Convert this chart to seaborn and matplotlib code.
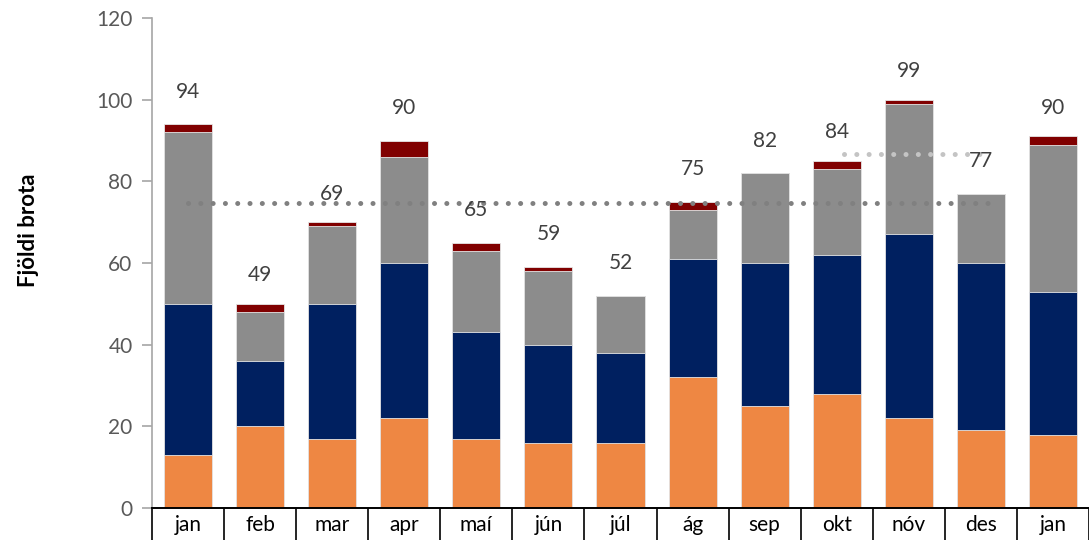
import matplotlib
matplotlib.use("Agg")
import matplotlib.pyplot as plt
import seaborn as sns
import numpy as np
import pandas as pd

months = ["jan", "feb", "mar", "apr", "maí", "jún", "júl", "ág", "sep", "okt", "nóv", "des", "jan"]
orange = [13, 20, 17, 22, 17, 16, 16, 32, 25, 28, 22, 19, 18]
navy   = [37, 16, 33, 38, 26, 24, 22, 29, 35, 34, 45, 41, 35]
gray   = [42, 12, 19, 26, 20, 18, 14, 12, 22, 21, 32, 17, 36]
red    = [2, 2, 1, 4, 2, 1, 0, 2, 0, 2, 1, 0, 2]
totals = [94, 49, 69, 90, 65, 59, 52, 75, 82, 84, 99, 77, 90]
avg_year = 74.6   # average jan-des
avg_last3 = 86.7  # average okt-des

sns.set_theme(style="white")
plt.rcParams['font.family'] = ['Lato', 'DejaVu Sans']

fig = plt.figure(figsize=(10.89, 5.4), dpi=100)
ax = fig.add_axes([152/1089, 1 - 508/540, 1 - 152/1089, 490/540])

idx = list(range(len(months)))
c1 = np.array(orange)
c2 = c1 + np.array(navy)
c3 = c2 + np.array(gray)
c4 = c3 + np.array(red)

layers = [(c4, "#800000"), (c3, "#8C8C8C"), (c2, "#002060"), (c1, "#EE8743")]
for vals, col in layers:
    df = pd.DataFrame({"x": idx, "y": vals})
    sns.barplot(data=df, x="x", y="y", color=col, width=0.667, ax=ax,
                edgecolor="#e6e6e6", linewidth=0.6, saturation=1, errorbar=None)

# average lines
ax.plot([0, 11.1], [avg_year, avg_year], color="#808080", linewidth=3.6,
        linestyle=(0, (0.01, 2.45)), dash_capstyle="round", zorder=5)
ax.plot([9.1, 11], [avg_last3, avg_last3], color="#C4C4C4", linewidth=3.6,
        linestyle=(0, (0.01, 2.45)), dash_capstyle="round", zorder=5)

for i, t in enumerate(totals):
    ax.annotate(str(t), (i, t), xytext=(0, 23.5), textcoords="offset points",
                ha="center", va="center", fontsize=15, color="#404040", zorder=6)

ax.set_xlim(-0.5, 12.5)
ax.set_ylim(0, 120)
ax.set_yticks(range(0, 121, 20))
ax.tick_params(axis="y", which="major", left=True, length=7, width=1.2, color="#A6A6A6",
               labelsize=15, labelcolor="#595959", pad=7)

ax.set_xticks(idx)
ax.set_xticklabels(months)
ax.set_xticks(np.arange(-0.5, 13, 1), minor=True)
ax.tick_params(axis="x", which="major", length=0, labelsize=15, labelcolor="black", pad=5)
ax.tick_params(axis="x", which="minor", bottom=True, length=24, width=1.2, color="black")

for s in ["top", "right"]:
    ax.spines[s].set_visible(False)
ax.spines["left"].set_color("#A6A6A6")
ax.spines["left"].set_linewidth(1.2)
ax.spines["bottom"].set_color("black")
ax.spines["bottom"].set_linewidth(1.4)

ax.set_xlabel("")
ax.set_ylabel("Fjöldi brota", fontsize=16, fontweight="bold", color="black")
ax.yaxis.set_label_coords(-0.121, 0.567)

fig.savefig("out.png", dpi=100)
